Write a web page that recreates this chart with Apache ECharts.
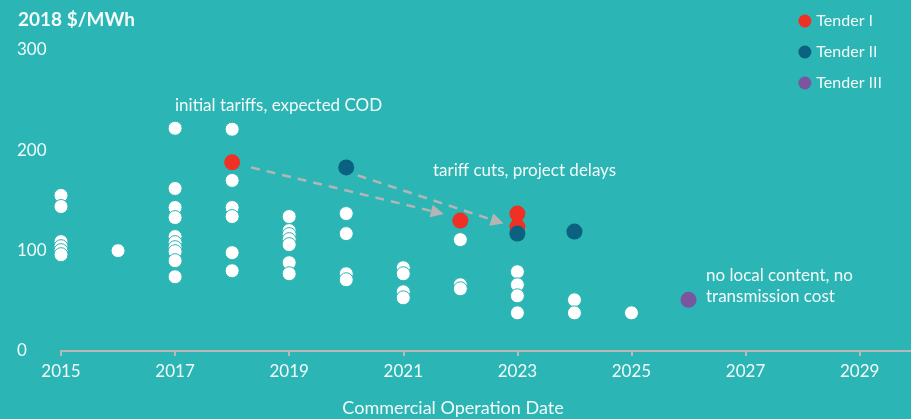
<!DOCTYPE html>
<html>
<head>
<meta charset="utf-8">
<script src="https://cdn.jsdelivr.net/npm/echarts@6/dist/echarts.min.js"></script>
<style>
  html, body { margin: 0; padding: 0; background: #2bb5b4; }
  #chart { width: 911px; height: 419px; }
</style>
</head>
<body>
<div id="chart"></div>
<script>
// tariff bids by commercial operation date, [year, 2018 $/MWh]
const projects = [
  [2015, 155], [2015, 144], [2015, 109], [2015, 104], [2015, 100], [2015, 96],
  [2016, 100],
  [2017, 222], [2017, 162], [2017, 143], [2017, 133], [2017, 114], [2017, 108],
  [2017, 103], [2017, 99], [2017, 90], [2017, 74],
  [2018, 221], [2018, 170], [2018, 143], [2018, 134], [2018, 98], [2018, 80],
  [2019, 134], [2019, 120], [2019, 116], [2019, 111], [2019, 106], [2019, 88], [2019, 77],
  [2020, 137], [2020, 117], [2020, 77], [2020, 71],
  [2021, 83], [2021, 77], [2021, 59], [2021, 53],
  [2022, 111], [2022, 66], [2022, 62],
  [2023, 79], [2023, 66], [2023, 55], [2023, 38],
  [2024, 51], [2024, 38],
  [2025, 38]
]
const tender1 = [[2018, 188], [2022, 130], [2023, 137], [2023, 124]]
const tender2 = [[2020, 183], [2023, 117], [2024, 119]]
const tender3 = [[2026, 51]]

// dashed arrows: initial tariff -> delayed / cut tariff
const arrows = [
  [[2018.33, 183], [2021.6, 138]],
  [[2020.2, 175], [2022.65, 129]]
]

const text = '#f4fbfb'
const font = 'Lato, "Open Sans", sans-serif'

const chart = echarts.init(document.getElementById('chart'))

chart.setOption({
  backgroundColor: '#2bb5b4',
  textStyle: { fontFamily: font },
  animation: false,
  title: {
    text: '2018 $/MWh',
    left: 13, top: 5,
    textStyle: { color: text, fontSize: 19, fontWeight: 'bold', fontFamily: font }
  },
  legend: {
    orient: 'vertical',
    right: 24, top: 8,
    itemWidth: 13, itemHeight: 13, itemGap: 15,
    icon: 'circle',
    data: ['Tender I', 'Tender II', 'Tender III'],
    textStyle: { color: text, fontSize: 16, fontFamily: font }
  },
  grid: { left: 61, right: 0, top: 50, bottom: 68, outerBoundsMode: 'none', containLabel: false },
  xAxis: {
    type: 'value',
    min: 2015, max: 2029.9, interval: 2,
    name: 'Commercial Operation Date',
    nameLocation: 'middle', nameGap: 48,
    nameTextStyle: { color: text, fontSize: 18, padding: [0, 66, 0, 0] },
    axisLine: { lineStyle: { color: '#b8b8b8', width: 2 } },
    axisTick: { show: true, length: 5, lineStyle: { color: '#b8b8b8', width: 2 } },
    axisLabel: {
      color: text, fontSize: 17, margin: 12, showMaxLabel: false,
      formatter: v => (Number.isInteger(v) ? String(v) : '')
    },
    splitLine: { show: false }
  },
  yAxis: {
    type: 'value',
    min: 0, max: 300, interval: 100,
    axisLine: { show: false },
    axisTick: { show: false },
    axisLabel: { color: text, fontSize: 17, align: 'left', margin: 44 },
    splitLine: { show: false }
  },
  graphic: [
    { type: 'text', left: 175, top: 97, style: { text: 'initial tariffs, expected COD', fill: text, font: '17px ' + font } },
    { type: 'text', left: 433, top: 162, style: { text: 'tariff cuts, project delays', fill: text, font: '17px ' + font } },
    { type: 'text', left: 706, top: 265, style: { text: 'no local content, no\ntransmission cost', fill: text, font: '17px ' + font, lineHeight: 21 } }
  ],
  series: [
    {
      name: 'Projects',
      type: 'scatter',
      symbolSize: 14,
      itemStyle: { color: '#ffffff', borderColor: '#2bb5b4', borderWidth: 1, opacity: 1 },
      data: projects
    },
    {
      name: 'Arrows',
      type: 'lines',
      coordinateSystem: 'cartesian2d',
      silent: true,
      z: 1,
      symbol: ['none', 'triangle'],
      symbolSize: 13,
      lineStyle: { color: '#b5b5b5', type: [9, 7], width: 2.5, opacity: 1 },
      data: arrows.map(a => ({ coords: a }))
    },
    {
      name: 'Tender I',
      type: 'scatter',
      symbolSize: 16,
      itemStyle: { color: '#ee3124', opacity: 1 },
      data: tender1
    },
    {
      name: 'Tender II',
      type: 'scatter',
      symbolSize: 16,
      itemStyle: { color: '#0b6180', opacity: 1 },
      data: tender2
    },
    {
      name: 'Tender III',
      type: 'scatter',
      symbolSize: 16,
      itemStyle: { color: '#7b559f', opacity: 1 },
      data: tender3
    }
  ]
})
</script>
</body>
</html>
